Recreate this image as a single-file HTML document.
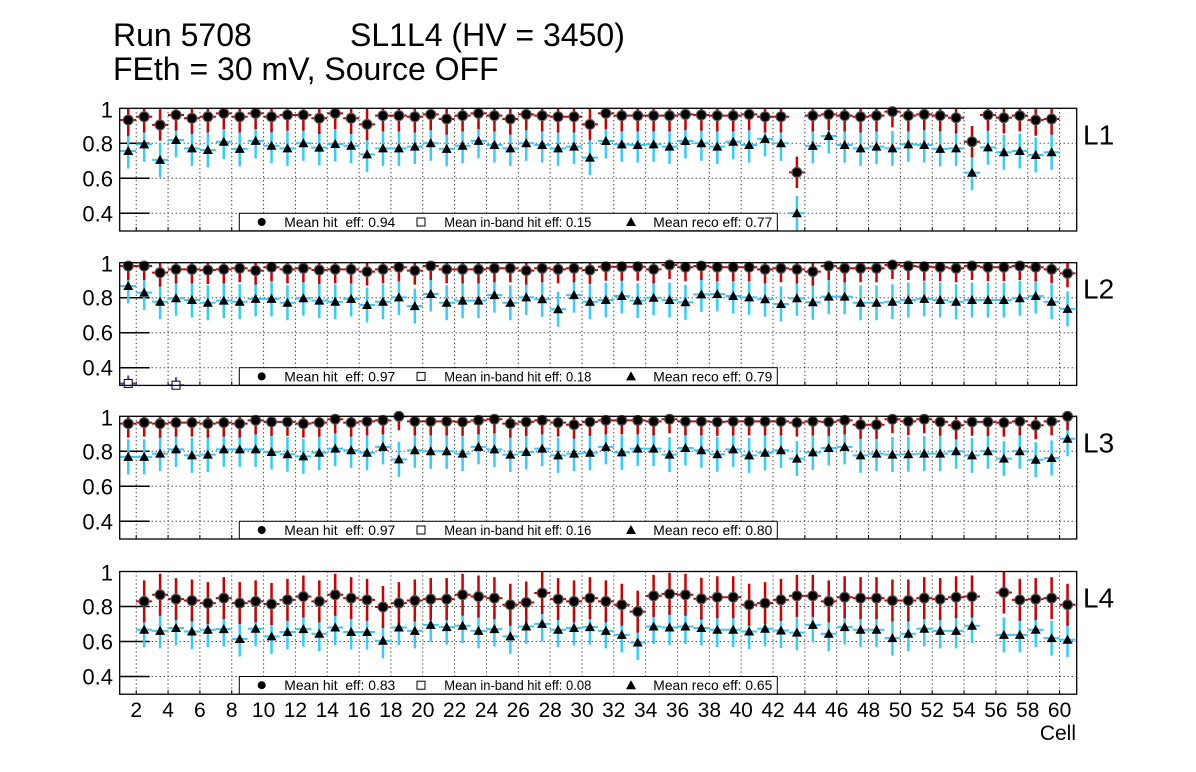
<!DOCTYPE html>
<html><head><meta charset="utf-8"><style>
html,body{margin:0;padding:0;background:#fff;}
svg{display:block;font-family:"Liberation Sans",sans-serif;}
</style></head><body>
<svg id="chart" width="1196" height="772" viewBox="0 0 1196 772">
<text x="113" y="46" font-size="32">Run 5708</text>
<text x="350" y="46" font-size="32">SL1L4 (HV = 3450)</text>
<text x="113" y="80" font-size="32">FEth = 30 mV, Source OFF</text>
<text x="1076" y="740" font-size="21" text-anchor="end">Cell</text>
</svg>
<script>
const layerNames = ["L1","L2","L3","L4"];
const meanHit = ["0.94","0.97","0.97","0.83"];
const meanInband = ["0.15","0.18","0.16","0.08"];
const meanReco = ["0.77","0.79","0.80","0.65"];
const yTicks = [0.4,0.6,0.8,1];
const yTickLabels = ["0.4","0.6","0.8","1"];
const xTicks = [2,4,6,8,10,12,14,16,18,20,22,24,26,28,30,32,34,36,38,40,42,44,46,48,50,52,54,56,58,60];
const hitErrs = [0.09,0.08,0.08,0.12];
const recoErrs = [0.1,0.1,0.1,0.1];
const hitL1 = [0.933,0.952,0.905,0.962,0.943,0.952,0.971,0.952,0.971,0.952,0.962,0.962,0.943,0.971,0.943,0.908,0.958,0.958,0.952,0.965,0.939,0.958,0.971,0.958,0.939,0.965,0.958,0.952,0.952,0.908,0.971,0.958,0.958,0.958,0.958,0.965,0.962,0.958,0.958,0.965,0.952,0.952,0.634,0.958,0.965,0.958,0.952,0.958,0.981,0.958,0.965,0.958,0.946,0.809,0.962,0.946,0.958,0.933,0.939,null];
const recoL1 = [0.756,0.794,0.705,0.819,0.771,0.762,0.809,0.768,0.814,0.786,0.771,0.800,0.775,0.796,0.786,0.737,0.771,0.771,0.781,0.800,0.768,0.786,0.814,0.790,0.771,0.800,0.790,0.771,0.781,0.718,0.813,0.794,0.790,0.794,0.781,0.813,0.800,0.781,0.809,0.790,0.825,0.800,0.400,0.785,0.842,0.790,0.771,0.781,0.771,0.794,0.790,0.768,0.771,0.632,0.777,0.749,0.756,0.733,0.749,null];
const hitL2 = [0.981,0.981,0.943,0.962,0.962,0.958,0.962,0.968,0.955,0.974,0.962,0.968,0.958,0.962,0.962,0.949,0.962,0.974,0.955,0.981,0.962,0.962,0.962,0.968,0.968,0.955,0.968,0.962,0.968,0.958,0.977,0.977,0.977,0.962,0.987,0.974,0.981,0.974,0.974,0.974,0.962,0.968,0.962,0.949,0.981,0.968,0.968,0.968,0.987,0.981,0.977,0.974,0.968,0.981,0.974,0.974,0.981,0.974,0.962,0.939];
const recoL2 = [0.867,0.829,0.777,0.797,0.787,0.771,0.783,0.777,0.793,0.793,0.771,0.797,0.783,0.777,0.793,0.758,0.777,0.802,0.752,0.821,0.771,0.783,0.783,0.815,0.771,0.802,0.791,0.734,0.815,0.777,0.787,0.810,0.783,0.800,0.787,0.774,0.819,0.821,0.810,0.802,0.791,0.764,0.797,0.774,0.806,0.806,0.771,0.771,0.777,0.787,0.793,0.787,0.777,0.787,0.787,0.787,0.797,0.810,0.777,0.736];
const hitL3 = [0.958,0.964,0.958,0.964,0.964,0.958,0.964,0.958,0.977,0.968,0.968,0.958,0.964,0.983,0.964,0.971,0.977,1.0,0.971,0.971,0.971,0.968,0.977,0.983,0.958,0.968,0.977,0.964,0.952,0.968,0.977,0.977,0.977,0.971,0.983,0.971,0.971,0.968,0.971,0.971,0.971,0.971,0.964,0.971,0.968,0.977,0.952,0.952,0.983,0.971,0.983,0.968,0.949,0.968,0.968,0.964,0.971,0.949,0.971,1.0];
const recoL3 = [0.768,0.768,0.787,0.811,0.777,0.781,0.811,0.811,0.811,0.796,0.783,0.771,0.792,0.815,0.806,0.792,0.825,0.754,0.806,0.800,0.800,0.787,0.825,0.811,0.781,0.796,0.815,0.777,0.787,0.792,0.825,0.794,0.815,0.815,0.781,0.819,0.806,0.783,0.811,0.777,0.792,0.806,0.758,0.794,0.819,0.825,0.777,0.787,0.781,0.783,0.787,0.787,0.800,0.777,0.800,0.758,0.800,0.752,0.762,0.872];
const hitL4 = [null,0.829,0.867,0.842,0.834,0.819,0.848,0.819,0.829,0.814,0.838,0.857,0.829,0.867,0.848,0.838,0.797,0.819,0.834,0.842,0.842,0.867,0.857,0.848,0.810,0.823,0.877,0.842,0.829,0.848,0.829,0.810,0.771,0.861,0.872,0.867,0.844,0.853,0.853,0.810,0.819,0.838,0.861,0.861,0.829,0.853,0.848,0.848,0.834,0.834,0.848,0.842,0.853,0.857,null,0.880,0.838,0.842,0.848,0.810];
const recoL4 = [null,0.667,0.661,0.677,0.657,0.667,0.671,0.614,0.673,0.629,0.654,0.671,0.644,0.680,0.654,0.654,0.604,0.680,0.661,0.695,0.682,0.690,0.661,0.671,0.629,0.686,0.701,0.667,0.677,0.682,0.661,0.638,0.594,0.686,0.680,0.686,0.677,0.667,0.667,0.657,0.673,0.663,0.651,0.695,0.644,0.682,0.667,0.667,0.619,0.644,0.673,0.661,0.661,0.690,null,0.638,0.638,0.667,0.619,0.610];
const inbandL2 = [0.31,0,0,0.30];

const hits = [hitL1,hitL2,hitL3,hitL4];
const recos = [recoL1,recoL2,recoL3,recoL4];
const inbands = [[],inbandL2,[],[]];

const NS = "http://www.w3.org/2000/svg";
const svg = document.getElementById("chart");
const FX0 = 119.7, X1 = 1076.7, XC0 = 120.3, CW = 15.92;
const panelTops = [108.3, 262.7, 416.3, 571.5];
const PH = 122.7, YS = 175, YMIN = 0.3, YMAX = 1.0;
function xs(c){ return XC0 + (c-1)*CW; }
function mk(tag, attrs, parent){
  const e = document.createElementNS(NS, tag);
  for (const k in attrs) e.setAttribute(k, attrs[k]);
  (parent||svg).appendChild(e);
  return e;
}
const RED = "#cc0000", BLUE = "#33ccff";

for (let p = 0; p < 4; p++) {
  const top = panelTops[p];
  const ys = v => top + (YMAX - v) * YS;
  const hitErr = hitErrs[p], recoErr = recoErrs[p];
  const g = mk("g", {});
  
  
  const cp = mk("clipPath", {id: "cp"+p}, g);
  mk("rect", {x: FX0, y: top, width: X1-FX0, height: PH}, cp);
  xTicks.forEach(c => {
    const l = mk("line", {x1: xs(c), x2: xs(c), y1: top, y2: top+PH, stroke: "#000", "stroke-width": 1, "stroke-dasharray": "1,3"}, g);
    
    
    mk("line", {x1: xs(c), x2: xs(c), y1: top+PH, y2: top+PH-4, stroke: "#000", "stroke-width": 1}, g);
  });
  yTicks.forEach((v, k) => {
    const yy = ys(v);
    if (v < 1) {
      mk("line", {x1: FX0, x2: X1, y1: yy, y2: yy, stroke: "#000", "stroke-width": 1, "stroke-dasharray": "1,3"}, g);
      mk("line", {x1: FX0, x2: FX0+30, y1: yy, y2: yy, stroke: "#000", "stroke-width": 1.5}, g);
    }
    const t = mk("text", {x: 113, y: yy + (v < 1 ? 8 : 9), "font-size": 22, "text-anchor": "end"}, g);
    t.textContent = yTickLabels[k];
    
    
  });
  const pg = mk("g", {"clip-path": "url(#cp"+p+")"}, g);
  const rs = recos[p];
  rs.forEach((v, i) => {
    if (v === null) return;
    const cx = xs(i+1.5), cy = ys(v);
    mk("line", {x1: xs(i+1), x2: xs(i+2), y1: cy, y2: cy, stroke: BLUE, "stroke-width": 2}, pg);
    mk("line", {x1: cx, x2: cx, y1: ys(v+recoErr), y2: ys(v-recoErr), stroke: BLUE, "stroke-width": 2.5}, pg);
  });
  const hs = hits[p];
  hs.forEach((v, i) => {
    if (v === null) return;
    const cx = xs(i+1.5), cy = ys(v);
    mk("line", {x1: xs(i+1), x2: xs(i+2), y1: cy, y2: cy, stroke: RED, "stroke-width": 2}, pg);
    mk("line", {x1: cx, x2: cx, y1: ys(v+hitErr), y2: ys(v-hitErr), stroke: RED, "stroke-width": 2.5}, pg);
  });
  inbands[p].forEach((v, i) => {
    if (!v || v < YMIN) return;
    const cx = xs(i+1.5), cy = ys(v);
    mk("line", {x1: xs(i+1), x2: xs(i+2), y1: cy, y2: cy, stroke: "#6633cc", "stroke-width": 2}, pg);
    mk("line", {x1: cx, x2: cx, y1: cy-8, y2: cy+8, stroke: "#6633cc", "stroke-width": 2}, pg);
    const s = mk("rect", {x: cx-4, y: cy-4, width: 8, height: 8, fill: "#fff", stroke: "#000", "stroke-width": 1}, g);
    
    
  });
  rs.forEach((v, i) => {
    if (v === null) return;
    const cx = xs(i+1.5), cy = ys(v);
    const m = mk("polygon", {points: `${cx-5},${cy+4} ${cx+5},${cy+4} ${cx},${cy-5}`, fill: "#000"}, g);
    
    
  });
  hs.forEach((v, i) => {
    if (v === null) return;
    const cx = xs(i+1.5), cy = ys(v);
    mk("circle", {cx: cx, cy: cy, r: 5.5, fill: "#555"}, g);
    const m = mk("circle", {cx: cx, cy: cy, r: 4.3, fill: "#000"}, g);
    
    
  });
  const lg = mk("g", {}, g);
  
  
  const ly = top + 105;
  mk("rect", {x: 239.3, y: ly, width: 538, height: 17.5, fill: "#fff", stroke: "#000", "stroke-width": 1}, lg);
  const cy = ly + 8.7;
  mk("circle", {cx: 261.7, cy: cy, r: 4, fill: "#000"}, lg);
  const t1 = mk("text", {x: 284.3, y: cy + 5, "font-size": 14, textLength: 111, lengthAdjust: "spacingAndGlyphs"}, lg);
  t1.textContent = "Mean hit\u00a0 eff: " + meanHit[p];
  
  
  mk("rect", {x: 417, y: cy-4, width: 8, height: 8, fill: "#fff", stroke: "#000", "stroke-width": 1}, lg);
  const t2 = mk("text", {x: 444.3, y: cy + 5, "font-size": 14, textLength: 147, lengthAdjust: "spacingAndGlyphs"}, lg);
  t2.textContent = "Mean in-band hit eff: " + meanInband[p];
  
  
  mk("polygon", {points: `${626},${cy+4} ${636},${cy+4} ${631},${cy-5}`, fill: "#000"}, lg);
  const t3 = mk("text", {x: 653.3, y: cy + 5, "font-size": 14, textLength: 119, lengthAdjust: "spacingAndGlyphs"}, lg);
  t3.textContent = "Mean reco eff: " + meanReco[p];
  
  
  const fr = mk("rect", {x: FX0, y: top, width: X1-FX0, height: PH, fill: "none", stroke: "#000", "stroke-width": 1.3}, g);
  
  
  const lab = mk("text", {x: 1083, y: top + 36, "font-size": 28}, g);
  lab.textContent = layerNames[p];
  
  
}
xTicks.forEach(c => {
  const t = mk("text", {x: xs(c), y: 717, "font-size": 21, "text-anchor": "middle"});
  t.textContent = String(c);
  
  
});
</script>
</body></html>
